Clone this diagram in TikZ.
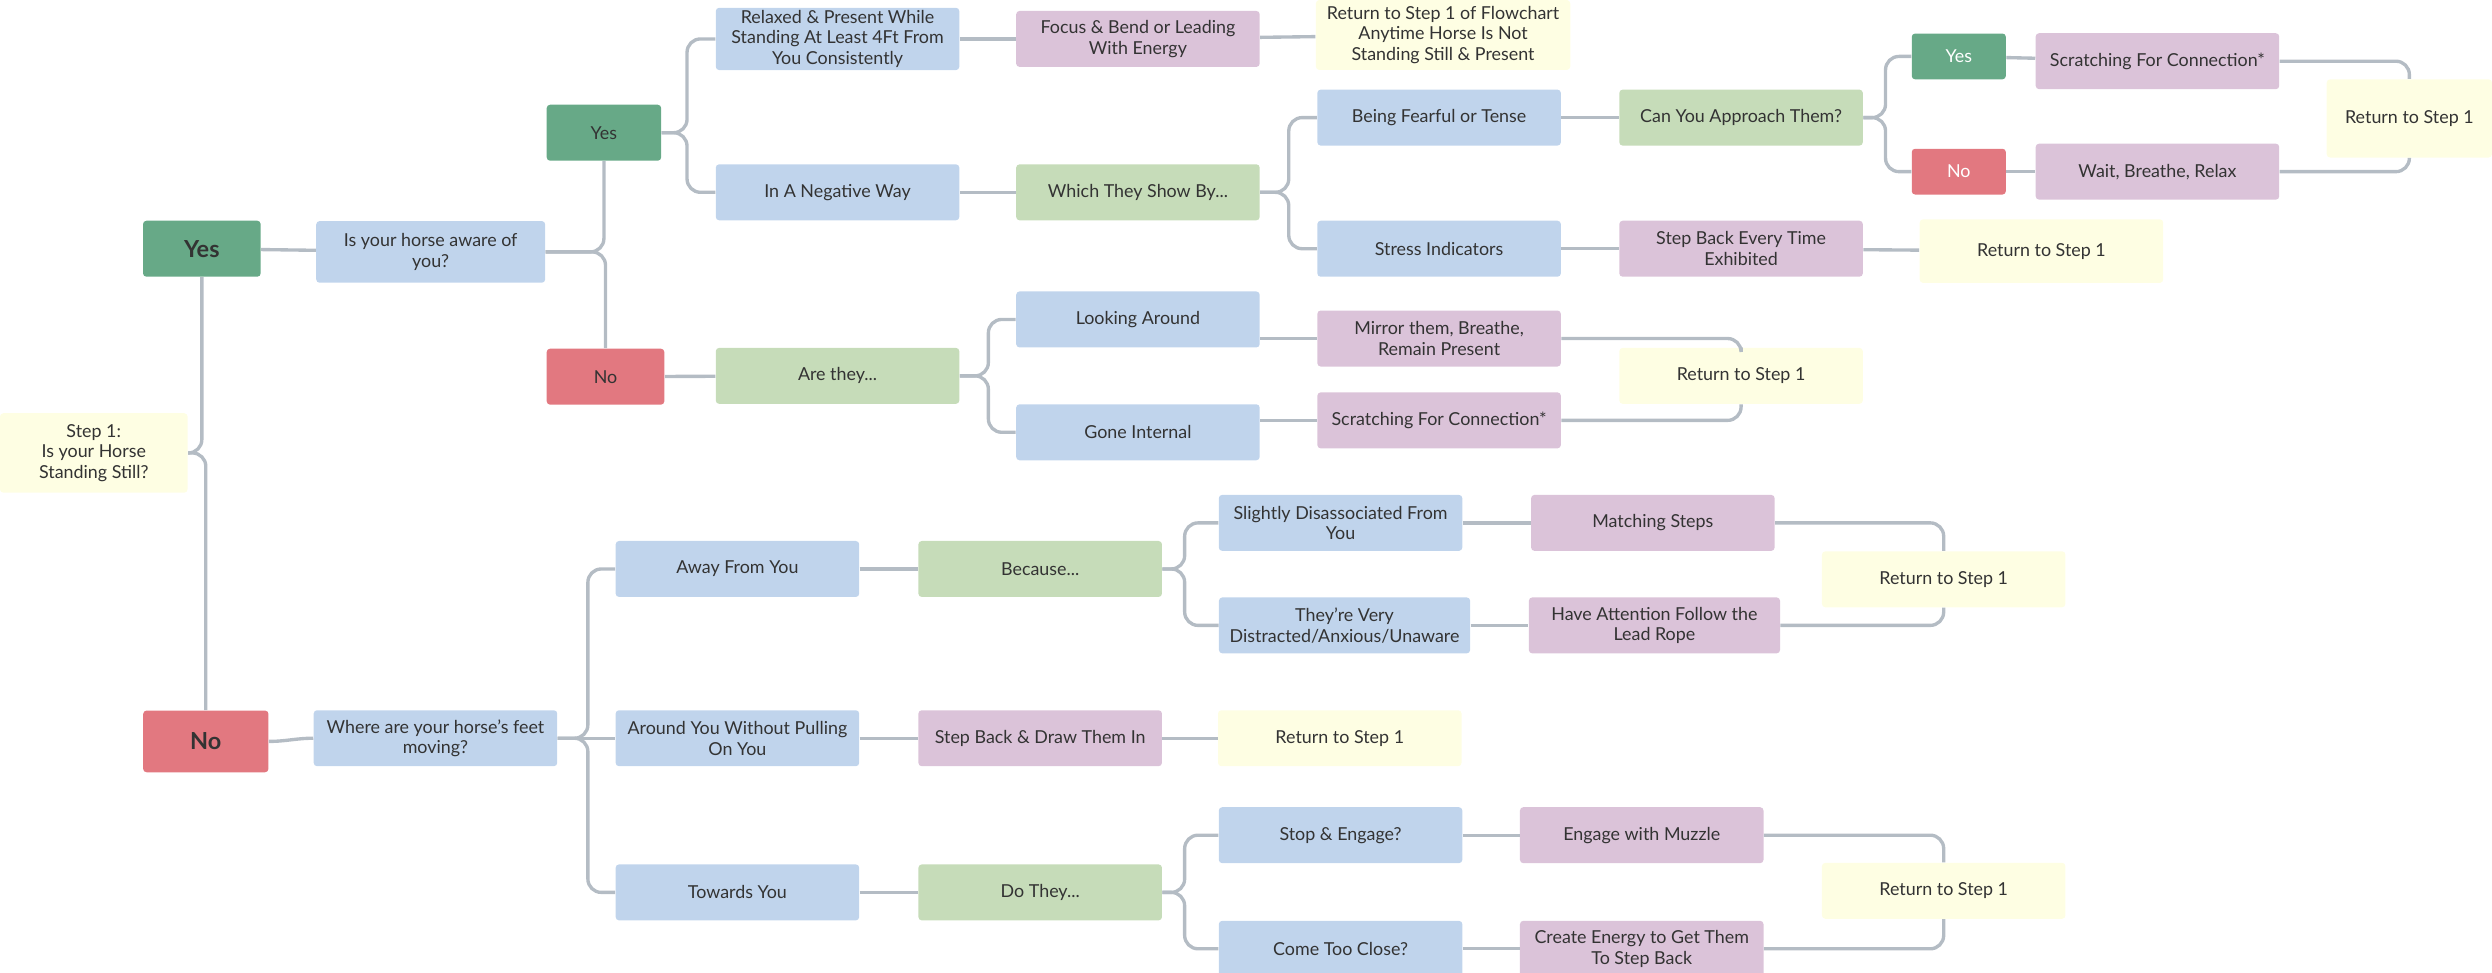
\documentclass[tikz,border=0pt]{standalone}
\usepackage{fontspec}
\setmainfont{Lato}
\usetikzlibrary{calc}
\definecolor{cblue}{HTML}{C0D4EC}
\definecolor{cgreen}{HTML}{C6DCB9}
\definecolor{cpurple}{HTML}{DBC3D9}
\definecolor{cyellow}{HTML}{FEFEE3}
\definecolor{cyes}{HTML}{67A987}
\definecolor{cno}{HTML}{E27880}
\definecolor{cline}{HTML}{B4BCC4}
\definecolor{txt}{HTML}{333333}
\tikzstyle{box} = [rounded corners=1.5pt, align=center, inner sep=1pt, text=txt, font=\fontsize{8}{9.3}\selectfont, minimum width=3.83cm, minimum height=0.88cm]
\tikzstyle{qbox} = [box, fill=cblue]
\tikzstyle{gbox} = [box, fill=cgreen]
\tikzstyle{pbox} = [box, fill=cpurple]
\tikzstyle{ybox} = [box, fill=cyellow]
\tikzstyle{yesbox} = [box, fill=cyes, minimum width=1.85cm]
\tikzstyle{nobox} = [box, fill=cno, minimum width=1.85cm]
\tikzstyle{bigfont} = [font=\fontsize{10.5}{12}\selectfont\bfseries]
\tikzstyle{choicemini} = [minimum width=1.48cm, minimum height=0.72cm, text=white]
\tikzstyle{link} = [draw=cline, line width=1.5pt, rounded corners=6pt]

\begin{document}
\begin{tikzpicture}[x=0.025cm, y=-0.025cm]
  \useasboundingbox (0,0) rectangle (1568,612);
  % start
  \node[ybox, minimum width=2.95cm, minimum height=1.25cm] (step1) at (59,285) {Step 1:\\Is your Horse\\Standing Still?};
  \node[yesbox, bigfont] (yesA) at (127,156.5) {Yes};
  \node[nobox, bigfont, minimum width=1.97cm, minimum height=0.97cm] (noA) at (129.5,466.5) {No};
  % standing still
  \node[qbox, minimum width=3.6cm, minimum height=0.97cm] (aware) at (271,158.5) {Is your horse aware of\\you?};
  \node[yesbox, minimum width=1.8cm] (yesB) at (380,83.5) {Yes};
  \node[nobox] (noB) at (381,237) {No};
  \node[qbox] (relax) at (527,24.5) {Relaxed \& Present While\\Standing At Least 4Ft From\\You Consistently};
  \node[qbox] (negative) at (527,121) {In A Negative Way};
  \node[gbox] (arethey) at (527,236.5) {Are they...};
  \node[pbox] (focus) at (716,24.5) {Focus \& Bend or Leading\\With Energy};
  \node[gbox] (which) at (716,121) {Which They Show By...};
  \node[qbox] (looking) at (716,201) {Looking Around};
  \node[qbox] (internal) at (716,272) {Gone Internal};
  \node[ybox, minimum width=4cm, minimum height=1.1cm] (rettop) at (908,22) {Return to Step 1 of Flowchart\\Anytime Horse Is Not\\Standing Still \& Present};
  \node[qbox] (fearful) at (905.5,74) {Being Fearful or Tense};
  \node[qbox] (stress) at (905.5,156.5) {Stress Indicators};
  \node[pbox] (mirror) at (905.5,213) {Mirror them, Breathe,\\Remain Present};
  \node[pbox] (scratchB) at (905.5,264.5) {Scratching For Connection*};
  \node[gbox] (approach) at (1095.5,74) {Can You Approach Them?};
  \node[pbox] (stepevery) at (1095.5,156.5) {Step Back Every Time\\Exhibited};
  \node[ybox] (retmid) at (1095.5,236.5) {Return to Step 1};
  \node[yesbox, choicemini] (yesC) at (1232.5,35.5) {Yes};
  \node[nobox, choicemini] (noC) at (1232.5,108) {No};
  \node[ybox, minimum height=1cm] (retstress) at (1284.5,158) {Return to Step 1};
  \node[pbox] (scratchA) at (1357.5,38.5) {Scratching For Connection*};
  \node[pbox] (wait) at (1357.5,108) {Wait, Breathe, Relax};
  \node[ybox, minimum width=2.6cm, minimum height=1.23cm] (retright) at (1516,74.5) {Return to Step 1};
  % moving
  \node[qbox] (where) at (274,464.5) {Where are your horse's feet\\moving?};
  \node[qbox] (away) at (464,358) {Away From You};
  \node[qbox] (around) at (464,464.5) {Around You Without Pulling\\On You};
  \node[qbox] (towards) at (464,561.5) {Towards You};
  \node[gbox] (because) at (654.5,358) {Because...};
  \node[pbox] (stepdraw) at (654.5,464.5) {Step Back \& Draw Them In};
  \node[gbox] (dothey) at (654.5,561.5) {Do They...};
  \node[qbox] (slightly) at (843.5,329) {Slightly Disassociated From\\You};
  \node[qbox, minimum width=3.95cm] (distracted) at (846,393.5) {They're Very\\Distracted/Anxious/Unaware};
  \node[ybox] (retaround) at (843,464.5) {Return to Step 1};
  \node[qbox] (engage) at (843.5,525.5) {Stop \& Engage?};
  \node[qbox] (close) at (843.5,597) {Come Too Close?};
  \node[pbox] (matching) at (1040,329) {Matching Steps};
  \node[pbox, minimum width=3.95cm] (attention) at (1041,393.5) {Have Attention Follow the\\Lead Rope};
  \node[pbox] (muzzle) at (1033,525.5) {Engage with Muzzle};
  \node[pbox] (energy) at (1033,597) {Create Energy to Get Them\\To Step Back};
  \node[ybox] (retaway) at (1223,364.5) {Return to Step 1};
  \node[ybox] (rettowards) at (1223,560.5) {Return to Step 1};

  % links
  \draw[link] (step1.east) -| (yesA.south);
  \draw[link] (step1.east) -| (noA.north);
  \draw[link] (yesA) -- (aware);
  \draw[link] (aware.east) -| (yesB.south);
  \draw[link] (aware.east) -| (noB.north);
  \draw[link] (yesB.east) -- ++(16,0) |- (relax.west);
  \draw[link] (yesB.east) -- ++(16,0) |- (negative.west);
  \draw[link] (relax) -- (focus);
  \draw[link] (focus) -- (rettop);
  \draw[link] (negative) -- (which);
  \draw[link] (which.east) -- ++(18,0) |- (fearful.west);
  \draw[link] (which.east) -- ++(18,0) |- (stress.west);
  \draw[link] (fearful) -- (approach);
  \draw[link] (approach.east) -- ++(14,0) |- (yesC.west);
  \draw[link] (approach.east) -- ++(14,0) |- (noC.west);
  \draw[link] (yesC) -- (scratchA);
  \draw[link] (noC) -- (wait);
  \draw[link] (scratchA.east) -| (retright.north);
  \draw[link] (wait.east) -| (retright.south);
  \draw[link] (stress) -- (stepevery);
  \draw[link] (stepevery) -- (retstress);
  \draw[link] (noB) -- (arethey);
  \draw[link] (arethey.east) -- ++(18,0) |- (looking.west);
  \draw[link] (arethey.east) -- ++(18,0) |- (internal.west);
  \draw[link] (looking.east |- mirror.west) -- (mirror.west);
  \draw[link] (internal.east |- scratchB.west) -- (scratchB.west);
  \draw[link] (mirror.east) -| (retmid.north);
  \draw[link] (scratchB.east) -| (retmid.south);
  \draw[link] (noA.east) to[out=0,in=180] (where.west);
  \draw[link] (where.east) -- ++(19,0) |- (away.west);
  \draw[link] (where) -- (around);
  \draw[link] (where.east) -- ++(19,0) |- (towards.west);
  \draw[link] (away) -- (because);
  \draw[link] (around) -- (stepdraw);
  \draw[link] (stepdraw) -- (retaround);
  \draw[link] (towards) -- (dothey);
  \draw[link] (because.east) -- ++(14,0) |- (slightly.west);
  \draw[link] (because.east) -- ++(14,0) |- (distracted.west);
  \draw[link] (slightly) -- (matching);
  \draw[link] (distracted) -- (attention);
  \draw[link] (matching.east) -| (retaway.north);
  \draw[link] (attention.east) -| (retaway.south);
  \draw[link] (dothey.east) -- ++(14,0) |- (engage.west);
  \draw[link] (dothey.east) -- ++(14,0) |- (close.west);
  \draw[link] (engage) -- (muzzle);
  \draw[link] (close) -- (energy);
  \draw[link] (muzzle.east) -| (rettowards.north);
  \draw[link] (energy.east) -| (rettowards.south);
\end{tikzpicture}
\end{document}
